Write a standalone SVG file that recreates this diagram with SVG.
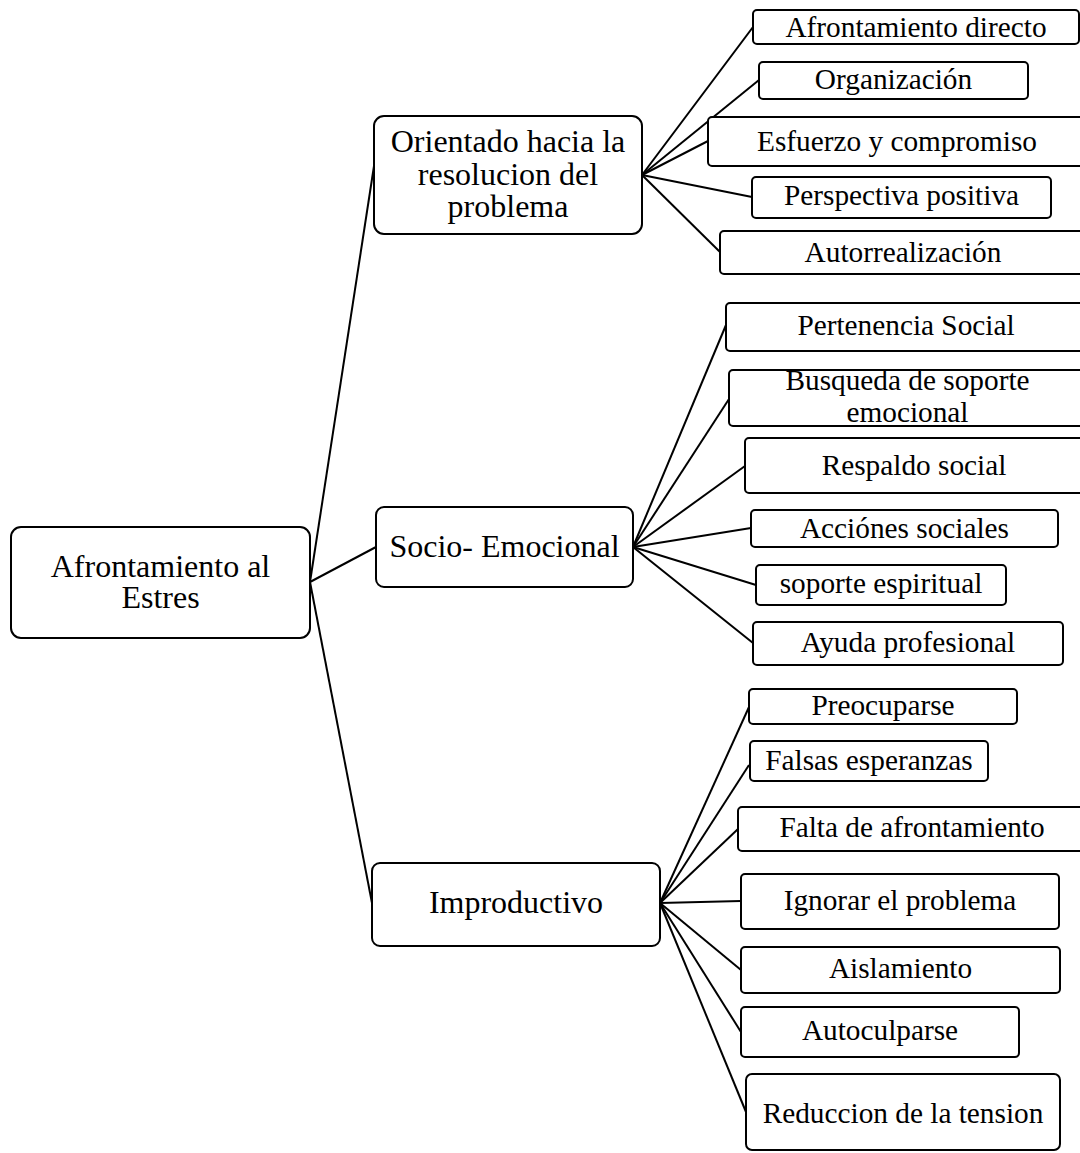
<svg xmlns="http://www.w3.org/2000/svg" width="1080" height="1153" viewBox="0 0 1080 1153">
<style>
.bx{fill:#fff;stroke:#000;stroke-width:2}
.ln{stroke:#000;stroke-width:2;fill:none}
.tm{font-family:"Liberation Serif","Times New Roman",serif;font-size:32px;fill:#000;text-anchor:middle}
.tc{font-family:"Liberation Serif","Times New Roman",serif;font-size:29.3px;fill:#000;text-anchor:middle}
</style>
<rect width="1080" height="1153" fill="#fff"/>
<g id="connectors" class="ln">
<line x1="310" y1="582" x2="374" y2="166"/>
<line x1="310" y1="582" x2="376" y2="547"/>
<line x1="310" y1="582" x2="372" y2="903"/>
<line x1="642" y1="175" x2="753" y2="27"/>
<line x1="642" y1="175" x2="759" y2="80"/>
<line x1="642" y1="175" x2="708" y2="141"/>
<line x1="642" y1="175" x2="752" y2="197"/>
<line x1="642" y1="175" x2="720" y2="252"/>
<line x1="633" y1="547" x2="726" y2="325"/>
<line x1="633" y1="547" x2="729" y2="399"/>
<line x1="633" y1="547" x2="745" y2="466"/>
<line x1="633" y1="547" x2="751" y2="528"/>
<line x1="633" y1="547" x2="756" y2="585"/>
<line x1="633" y1="547" x2="753" y2="643"/>
<line x1="660" y1="903" x2="749" y2="707"/>
<line x1="660" y1="903" x2="749" y2="765"/>
<line x1="660" y1="903" x2="738" y2="829"/>
<line x1="660" y1="903" x2="741" y2="901"/>
<line x1="660" y1="903" x2="741" y2="970"/>
<line x1="660" y1="903" x2="741" y2="1032"/>
<line x1="660" y1="903" x2="746" y2="1112"/>
</g>
<g id="root"><rect class="bx" x="11" y="527" width="299" height="111" rx="10"/><text class="tm" x="160.5" y="577">Afrontamiento al</text><text class="tm" x="160.5" y="608">Estres</text></g>
<g id="orientado"><rect class="bx" x="374" y="116" width="268" height="118" rx="10"/><text class="tm" x="508" y="152">Orientado hacia la</text><text class="tm" x="508" y="185">resolucion del</text><text class="tm" x="508" y="217">problema</text></g>
<g id="socio"><rect class="bx" x="376" y="507" width="257" height="80" rx="8"/><text class="tm" x="504.5" y="557">Socio- Emocional</text></g>
<g id="improductivo"><rect class="bx" x="372" y="863" width="288" height="83" rx="8"/><text class="tm" x="516" y="913">Improductivo</text></g>
<g id="c1"><rect class="bx" x="753" y="10" width="326" height="34" rx="4"/><text class="tc" x="916" y="36.5">Afrontamiento directo</text></g>
<g id="c2"><rect class="bx" x="759" y="62" width="269" height="37" rx="4"/><text class="tc" x="893.5" y="89">Organización</text></g>
<g id="c3"><rect class="bx" x="708" y="117" width="378" height="49" rx="4"/><text class="tc" x="897" y="150.5">Esfuerzo y compromiso</text></g>
<g id="c4"><rect class="bx" x="752" y="177" width="299" height="41" rx="4"/><text class="tc" x="901.5" y="205">Perspectiva positiva</text></g>
<g id="c5"><rect class="bx" x="720" y="231" width="366" height="43" rx="4"/><text class="tc" x="903" y="261.5">Autorrealización</text></g>
<g id="s1"><rect class="bx" x="726" y="303" width="360" height="48" rx="4"/><text class="tc" x="906" y="335">Pertenencia Social</text></g>
<g id="s2"><rect class="bx" x="729" y="370" width="357" height="56" rx="4"/><text class="tc" x="907.5" y="390">Busqueda de soporte</text><text class="tc" x="907.5" y="422">emocional</text></g>
<g id="s3"><rect class="bx" x="745" y="438" width="340" height="55" rx="4"/><text class="tc" x="914" y="475">Respaldo social</text></g>
<g id="s4"><rect class="bx" x="751" y="510" width="307" height="37" rx="4"/><text class="tc" x="904.5" y="538">Acciónes sociales</text></g>
<g id="s5"><rect class="bx" x="756" y="565" width="250" height="40" rx="4"/><text class="tc" x="881" y="593">soporte espiritual</text></g>
<g id="s6"><rect class="bx" x="753" y="622" width="310" height="43" rx="4"/><text class="tc" x="908" y="652">Ayuda profesional</text></g>
<g id="i1"><rect class="bx" x="749" y="689" width="268" height="35" rx="4"/><text class="tc" x="883" y="715">Preocuparse</text></g>
<g id="i2"><rect class="bx" x="750" y="741" width="238" height="40" rx="4"/><text class="tc" x="869" y="770">Falsas esperanzas</text></g>
<g id="i3"><rect class="bx" x="738" y="807" width="348" height="44" rx="4"/><text class="tc" x="912" y="837">Falta de afrontamiento</text></g>
<g id="i4"><rect class="bx" x="741" y="874" width="318" height="55" rx="4"/><text class="tc" x="900" y="910">Ignorar el problema</text></g>
<g id="i5"><rect class="bx" x="741" y="947" width="319" height="46" rx="4"/><text class="tc" x="900.5" y="978">Aislamiento</text></g>
<g id="i6"><rect class="bx" x="741" y="1007" width="278" height="50" rx="4"/><text class="tc" x="880" y="1040">Autoculparse</text></g>
<g id="i7"><rect class="bx" x="746" y="1074" width="314" height="76" rx="6"/><text class="tc" x="903" y="1123">Reduccion de la tension</text></g>
</svg>
